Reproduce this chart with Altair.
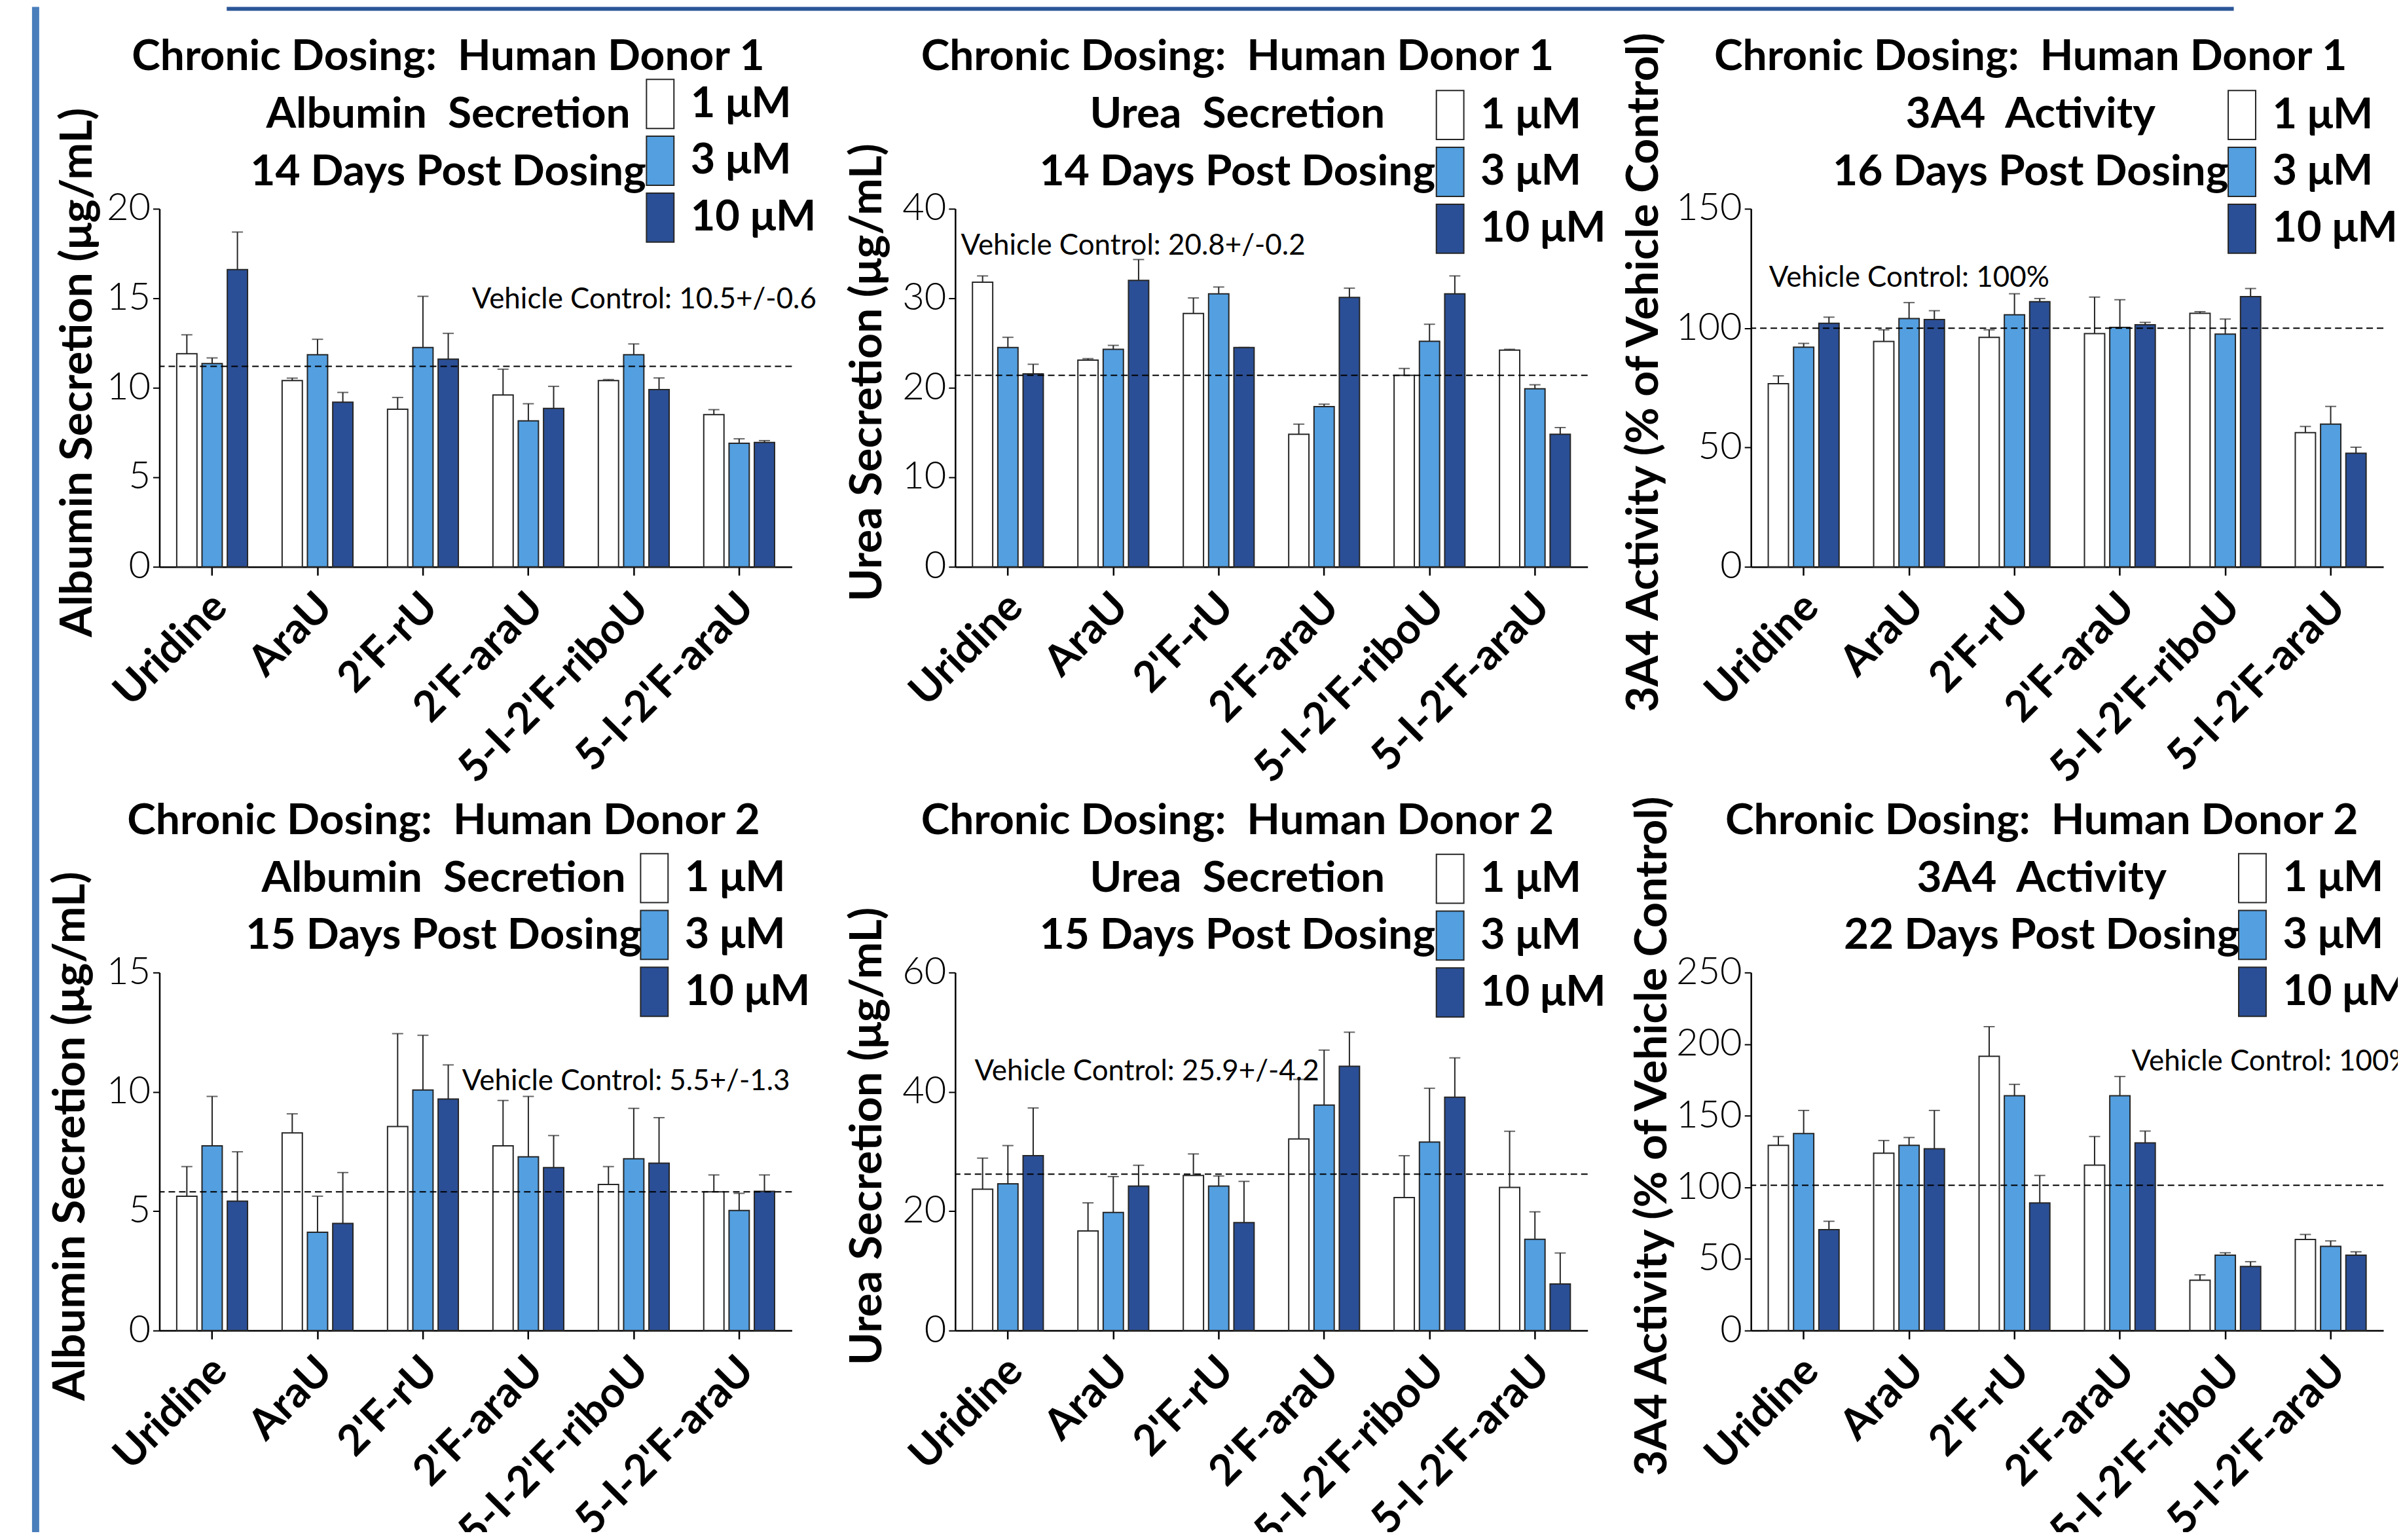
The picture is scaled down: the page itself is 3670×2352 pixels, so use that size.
import altair as alt
import pandas as pd

FONT = "Lato"
W, H = 968, 548

compounds = ["Uridine", "AraU", "2'F-rU", "2'F-araU", "5-I-2'F-riboU", "5-I-2'F-araU"]
doses = ["1 \u03bcM", "3 \u03bcM", "10 \u03bcM"]
dose_colors = ["#FFFFFF", "#539FE0", "#2B4F96"]

# Panel 1: Albumin secretion, donor 1, 14 days (ug/mL)
alb_d1_mean_1 = [11.9, 10.4, 8.8, 9.6, 10.4, 8.5]
alb_d1_mean_3 = [11.35, 11.85, 12.25, 8.15, 11.85, 6.9]
alb_d1_mean_10 = [16.6, 9.2, 11.6, 8.85, 9.9, 6.95]
alb_d1_err_1 = [1.06, 0.14, 0.66, 1.44, 0.06, 0.28]
alb_d1_err_3 = [0.32, 0.86, 2.86, 0.96, 0.6, 0.25]
alb_d1_err_10 = [2.1, 0.54, 1.44, 1.23, 0.65, 0.1]

# Panel 2: Urea secretion, donor 1, 14 days (ug/mL)
urea_d1_mean_1 = [31.8, 23.1, 28.3, 14.8, 21.4, 24.2]
urea_d1_mean_3 = [24.5, 24.3, 30.5, 17.9, 25.2, 19.9]
urea_d1_mean_10 = [21.55, 32.0, 24.5, 30.1, 30.5, 14.8]
urea_d1_err_1 = [0.7, 0.16, 1.74, 1.14, 0.76, 0.1]
urea_d1_err_3 = [1.14, 0.44, 0.76, 0.27, 1.9, 0.44]
urea_d1_err_10 = [1.08, 2.33, 0.0, 1.03, 2.0, 0.76]

# Panel 3: 3A4 activity, donor 1, 16 days (% of vehicle control)
cyp_d1_mean_1 = [76.7, 94.4, 96.1, 97.7, 106.2, 56.2]
cyp_d1_mean_3 = [92.0, 104.0, 105.6, 100.3, 97.5, 59.8]
cyp_d1_mean_10 = [102.0, 103.6, 111.1, 101.4, 113.2, 47.6]
cyp_d1_err_1 = [3.3, 4.9, 3.2, 15.3, 0.7, 2.6]
cyp_d1_err_3 = [1.6, 6.7, 8.8, 11.6, 6.3, 7.4]
cyp_d1_err_10 = [2.6, 3.7, 1.3, 1.0, 3.4, 2.5]

# Panel 4: Albumin secretion, donor 2, 15 days (ug/mL)
alb_d2_mean_1 = [5.63, 8.28, 8.55, 7.74, 6.12, 5.81]
alb_d2_mean_3 = [7.74, 4.12, 10.08, 7.28, 7.2, 5.03]
alb_d2_mean_10 = [5.42, 4.49, 9.7, 6.83, 7.01, 5.83]
alb_d2_err_1 = [1.24, 0.8, 3.89, 1.9, 0.75, 0.71]
alb_d2_err_3 = [2.07, 1.51, 2.29, 2.53, 2.11, 0.72]
alb_d2_err_10 = [2.07, 2.13, 1.43, 1.34, 1.91, 0.69]

# Panel 5: Urea secretion, donor 2, 15 days (ug/mL)
urea_d2_mean_1 = [23.7, 16.7, 26.0, 32.1, 22.3, 24.0]
urea_d2_mean_3 = [24.6, 19.8, 24.2, 37.8, 31.6, 15.3]
urea_d2_mean_10 = [29.3, 24.2, 18.1, 44.3, 39.1, 7.8]
urea_d2_err_1 = [5.2, 4.7, 3.6, 10.0, 7.0, 9.4]
urea_d2_err_3 = [6.4, 6.0, 1.7, 9.2, 9.0, 4.6]
urea_d2_err_10 = [8.0, 3.5, 6.9, 5.7, 6.6, 5.2]

# Panel 6: 3A4 activity, donor 2, 22 days (% of vehicle control)
cyp_d2_mean_1 = [129.3, 123.8, 191.5, 115.5, 35.1, 63.6]
cyp_d2_mean_3 = [137.6, 129.3, 164.0, 164.0, 52.6, 58.8]
cyp_d2_mean_10 = [70.5, 126.9, 89.1, 131.0, 44.7, 52.6]
cyp_d2_err_1 = [6.2, 8.9, 20.7, 20.0, 3.8, 3.5]
cyp_d2_err_3 = [16.1, 5.5, 7.9, 13.4, 1.7, 3.8]
cyp_d2_err_10 = [5.8, 26.8, 19.2, 8.3, 3.4, 2.4]

# vehicle-control reference lines (as drawn) and their labels
vc_values = [11.2, 21.4, 100.0, 5.81, 26.2, 101.4]
vc_labels = ["Vehicle Control: 10.5+/-0.6", "Vehicle Control: 20.8+/-0.2", "Vehicle Control: 100%",
             "Vehicle Control: 5.5+/-1.3", "Vehicle Control: 25.9+/-4.2", "Vehicle Control: 100%"]
vc_label_y = [14.9, 35.8, 121.0, 10.43, 43.3, 187.4]
vc_label_anchor = ["2'F-rU", "Uridine", "Uridine", "2'F-rU", "Uridine", "2'F-araU"]

y_max = [20, 40, 150, 15, 60, 250]
y_step = [5, 10, 50, 5, 20, 50]
y_titles = ["Albumin Secretion (\u03bcg/mL)", "Urea Secretion (\u03bcg/mL)", "3A4 Activity (% of Vehicle Control)",
            "Albumin Secretion (\u03bcg/mL)", "Urea Secretion (\u03bcg/mL)", "3A4 Activity (% of Vehicle Control)"]
title_line1 = ["Chronic Dosing:\u00a0 Human Donor 1"] * 3 + ["Chronic Dosing:\u00a0 Human Donor 2"] * 3
title_line2 = ["Albumin\u00a0 Secretion", "Urea\u00a0 Secretion", "3A4\u00a0 Activity"] * 2
title_line3 = ["14 Days Post Dosing", "14 Days Post Dosing", "16 Days Post Dosing",
               "15 Days Post Dosing", "15 Days Post Dosing", "22 Days Post Dosing"]

panel_means = [
    [alb_d1_mean_1, alb_d1_mean_3, alb_d1_mean_10],
    [urea_d1_mean_1, urea_d1_mean_3, urea_d1_mean_10],
    [cyp_d1_mean_1, cyp_d1_mean_3, cyp_d1_mean_10],
    [alb_d2_mean_1, alb_d2_mean_3, alb_d2_mean_10],
    [urea_d2_mean_1, urea_d2_mean_3, urea_d2_mean_10],
    [cyp_d2_mean_1, cyp_d2_mean_3, cyp_d2_mean_10],
]
panel_errs = [
    [alb_d1_err_1, alb_d1_err_3, alb_d1_err_10],
    [urea_d1_err_1, urea_d1_err_3, urea_d1_err_10],
    [cyp_d1_err_1, cyp_d1_err_3, cyp_d1_err_10],
    [alb_d2_err_1, alb_d2_err_3, alb_d2_err_10],
    [urea_d2_err_1, urea_d2_err_3, urea_d2_err_10],
    [cyp_d2_err_1, cyp_d2_err_3, cyp_d2_err_10],
]

# layout offsets (pixels, relative to each plot area)
vc_dx = [75, -72, -53, 60, -51, 18]
title_dx = [-42, -52, -56, -49, -52, -39]
ytitle_x = [-124, -134, -163, -135, -134, -150]
legend_x = [728, 719, 713, 719, 719, 729]
legend_y = [-199, -182, -182, -183, -182, -183]

INK = "#262626"
TOP = -309        # common top edge of each panel's content box (page top)
BOTTOM = 2060     # bottom of the decorative left rule (below all content)
RIGHT = 3500      # right edge marker (beyond all content)


def make_panel(i):
    rows = []
    for d, ms, es in zip(doses, panel_means[i], panel_errs[i]):
        for c, m, e in zip(compounds, ms, es):
            rows.append({"compound": c, "dose": d, "mean": m, "upper": m + e})
    df = pd.DataFrame(rows)

    xaxis = alt.Axis(title=None, labelAngle=-45, labelAlign="right", labelBaseline="top",
                     labelFont=FONT, labelFontSize=65, labelFontWeight="bold", labelColor="black",
                     labelLimit=0, labelOffset=-10, labelPadding=16, tickSize=13, tickWidth=2.5,
                     tickColor="black", domainWidth=2.5, domainColor="black", grid=False)
    xscale = alt.Scale(domain=compounds, paddingInner=0.28, paddingOuter=0.14)
    xenc = alt.X("compound:N", sort=compounds, scale=xscale, axis=xaxis)
    xoff = alt.XOffset("dose:N", sort=doses,
                       scale=alt.Scale(domain=doses, paddingInner=0.2, paddingOuter=0.1))
    yscale = alt.Scale(domain=[0, y_max[i]], nice=False, zero=True)
    yaxis = alt.Axis(title=y_titles[i], values=list(range(0, y_max[i] + 1, y_step[i])),
                     labelFont=FONT, labelFontSize=58, labelFontWeight=300, labelColor="black",
                     labelPadding=4, tickSize=10, tickWidth=2, tickColor="black",
                     domainWidth=2.5, domainColor="black", grid=False,
                     titleFont=FONT, titleFontSize=68, titleFontWeight="bold", titleColor="black",
                     titleX=ytitle_x[i], titleY=250, titleAngle=270, titleAlign="center",
                     titleBaseline="middle")

    base = alt.Chart(df)
    bars = base.mark_bar(stroke=INK, strokeWidth=2).encode(
        x=xenc, xOffset=xoff,
        y=alt.Y("mean:Q", scale=yscale, axis=yaxis),
        color=alt.Color("dose:N", sort=doses, scale=alt.Scale(domain=doses, range=dose_colors),
                        legend=alt.Legend(title=None, orient="none", legendX=legend_x[i],
                                          legendY=legend_y[i])),
    )
    stems = base.mark_rule(color=INK, strokeWidth=2).encode(
        x=xenc, xOffset=xoff, y=alt.Y("mean:Q", scale=yscale, axis=yaxis), y2="upper:Q")
    caps = base.mark_tick(orient="horizontal", size=17, thickness=2, color=INK).encode(
        x=xenc, xOffset=xoff, y=alt.Y("upper:Q", scale=yscale, axis=yaxis))

    vc_df = pd.DataFrame({"vc": [vc_values[i]], "compound": [vc_label_anchor[i]],
                          "ty": [vc_label_y[i]], "label": [vc_labels[i]]})
    vc_line = alt.Chart(vc_df).mark_rule(strokeDash=[10, 6], strokeWidth=2, color="black").encode(
        y=alt.Y("vc:Q", scale=yscale, axis=yaxis))
    vc_text = alt.Chart(vc_df).mark_text(align="left", baseline="middle", dx=vc_dx[i], font=FONT,
                                         fontSize=44, color="black").encode(
        x=xenc, y=alt.Y("ty:Q", scale=yscale, axis=yaxis), text="label:N")

    deco = pd.DataFrame({"k": [0]})
    # invisible marker fixing the top edge of the panel's content box
    top_mark = alt.Chart(deco).mark_rect(opacity=0).encode(
        x=alt.value(0), x2=alt.value(10), y=alt.value(TOP), y2=alt.value(TOP + 1))
    layers = [bars, stems, caps, vc_line, vc_text, top_mark]
    if i == 0:
        left_line = alt.Chart(deco).mark_rect(color="#4A7EBB").encode(
            x=alt.value(-195), x2=alt.value(-184), y=alt.value(TOP), y2=alt.value(BOTTOM))
        top_bar = alt.Chart(deco).mark_rect(color="#2B5597").encode(
            x=alt.value(103), x2=alt.value(3175), y=alt.value(TOP), y2=alt.value(TOP + 6))
        right_mark = alt.Chart(deco).mark_rect(opacity=0).encode(
            x=alt.value(RIGHT - 10), x2=alt.value(RIGHT), y=alt.value(TOP), y2=alt.value(TOP + 1))
        layers += [left_line, top_bar, right_mark]

    title = alt.TitleParams(text=[title_line1[i], title_line2[i], title_line3[i]], font=FONT,
                            fontSize=66, fontWeight="bold", color="black", anchor="middle",
                            frame="group", dx=title_dx[i], lineHeight=88, offset=-287)
    return alt.layer(*layers).properties(width=W, height=H, title=title)


panels = [make_panel(i) for i in range(6)]

# page is 3670 x 2352 with an 8px margin: trim the svg to fit exactly
pad_left = 41
pad_right = 3662 - (RIGHT + 195) - pad_left
pad_bottom = 2332 - (BOTTOM - TOP)

chart = alt.concat(*panels, columns=3, spacing={"row": 621, "column": 250}, bounds="flush").resolve_scale(
    color="independent", x="independent", y="independent", xOffset="independent"
).resolve_legend(color="independent").properties(
    padding={"left": pad_left, "top": 0, "right": pad_right, "bottom": pad_bottom}
).configure_view(stroke=None).configure_legend(
    symbolType="M-0.56,-1H0.56V1H-0.56Z", symbolSize=5625, symbolStrokeColor=INK,
    symbolStrokeWidth=2, symbolOpacity=1, labelFont=FONT, labelFontSize=65, labelFontWeight="bold",
    labelColor="black", rowPadding=4, labelOffset=8, padding=0, labelLimit=400
).configure_axis(grid=False)

chart.save("out.html", embed_options={"renderer": "svg", "actions": False})
